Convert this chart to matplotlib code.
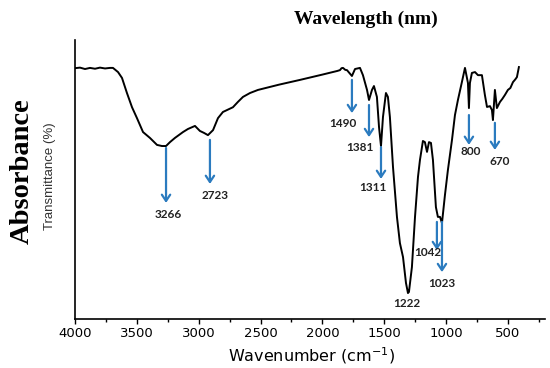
import matplotlib
matplotlib.use('Agg')
import matplotlib.pyplot as plt
from matplotlib.ticker import MultipleLocator

# FTIR spectrum (wavenumber in cm-1, transmittance in arbitrary %)
wavenumber = [4000, 3960, 3919, 3879, 3838, 3798, 3757, 3717, 3693, 3652, 3620, 3580,
              3539, 3499, 3450, 3394, 3337, 3297, 3264, 3232, 3192, 3127, 3087, 3030,
              2990, 2957, 2925, 2884, 2844, 2804, 2723, 2683, 2642, 2585, 2521, 2350,
              2181, 2000, 1880, 1858, 1845, 1833, 1815, 1801, 1761, 1736, 1696, 1672,
              1639, 1623, 1599, 1583, 1559, 1542, 1526, 1510, 1486, 1470, 1454, 1429,
              1397, 1373, 1348, 1324, 1308, 1300, 1276, 1251, 1227, 1211, 1187, 1171,
              1154, 1138, 1122, 1106, 1082, 1066, 1049, 1033, 1009, 985, 952, 928,
              904, 872, 847, 823, 815, 807, 791, 766, 742, 710, 686, 669, 645, 629,
              621, 605, 589, 564, 545, 524, 500, 480, 459, 440, 427, 411]
transmittance = [89.9, 90.1, 89.6, 90.0, 89.7, 90.1, 89.8, 90.0, 90.0, 88.5, 86.4, 81.0,
                 75.9, 72.0, 67.0, 64.9, 62.4, 62.0, 62.0, 63.4, 64.9, 67.0, 68.1, 69.2,
                 67.4, 66.7, 65.9, 67.7, 72.0, 74.2, 75.9, 77.8, 79.6, 81.0, 82.1, 84.0,
                 85.7, 87.6, 88.9, 89.2, 89.9, 90.0, 89.3, 89.2, 87.1, 89.6, 90.0, 87.4,
                 82.1, 78.5, 82.1, 83.5, 79.6, 68.8, 62.0, 72.4, 81.0, 79.6, 72.4, 54.5,
                 36.6, 27.2, 22.2, 12.9, 9.3, 9.7, 18.6, 36.6, 50.9, 57.0, 63.8, 63.4,
                 59.9, 63.4, 63.1, 57.0, 40.1, 36.6, 36.6, 34.4, 44.4, 53.4, 64.2, 73.1,
                 78.5, 84.9, 90.0, 84.6, 75.6, 84.6, 88.2, 88.5, 87.4, 87.4, 80.3, 76.0,
                 76.3, 74.9, 71.3, 82.1, 75.6, 77.8, 78.9, 80.3, 82.1, 82.8, 84.9, 85.9,
                 86.7, 90.3]

# Peak markers: label, arrow x, arrow start y, arrow tip y, label x, label y
peak_labels = ['3266', '2723', '1490', '1381', '1311', '1042', '1023', '800', '670']
peak_x = [3264, 2909, 1761, 1623, 1526, 1074, 1033, 815, 605]
arrow_top = [61.3, 64.2, 85.7, 76.7, 61.6, 34.8, 34.8, 73.1, 70.3]
arrow_tip = [41.6, 48.4, 73.8, 65.2, 50.2, 24.7, 16.8, 62.4, 60.6]
label_x = [3248, 2868, 1834, 1696, 1591, 1146, 1033, 799, 564]
label_y = [37.3, 44.3, 69.9, 61.3, 47.0, 23.7, 12.9, 59.9, 56.3]

fig = plt.figure(figsize=(5.5, 3.68), dpi=100)
ax = fig.add_axes([75 / 550, 1 - 319 / 368, 470 / 550, 279 / 368])

ax.plot(wavenumber, transmittance, color='black', lw=1.4)

arrow_color = '#2b7bbf'
for lab, x, y0, y1, lx, ly in zip(peak_labels, peak_x, arrow_top, arrow_tip, label_x, label_y):
    ax.annotate('', xy=(x, y1), xytext=(x, y0),
                arrowprops=dict(arrowstyle='->, head_length=0.45, head_width=0.3',
                                color=arrow_color, lw=1.6, shrinkA=0, shrinkB=0))
    ax.text(lx, ly, lab, ha='center', va='center', fontsize=8.5,
            fontweight='bold', family='Lato', color='#222222')
ax.text(1316, 5.4, '1222', ha='center', va='center', fontsize=8.5,
        fontweight='bold', family='Lato', color='#222222')

ax.set_xlim(4000, 200)
ax.set_ylim(0, 100)
ax.xaxis.set_major_locator(MultipleLocator(500))
ax.xaxis.set_minor_locator(MultipleLocator(250))
ax.set_yticks([])
for side in ['top', 'right']:
    ax.spines[side].set_visible(False)
for side in ['left', 'bottom']:
    ax.spines[side].set_linewidth(1.2)
ax.tick_params(axis='x', which='both', direction='out', width=1.0, pad=2,
               labelsize=9.5, colors='black')
ax.tick_params(axis='x', which='major', length=3.5)
ax.tick_params(axis='x', which='minor', length=2.5)

fig.text(312 / 550, 1 - 362 / 368, 'Wavenumber (cm$^{-1}$)', ha='center',
         va='baseline', fontsize=11.5)
fig.text(50 / 550, 1 - 176 / 368, 'Transmittance (%)', rotation=90, ha='center',
         va='center', fontsize=9.5, family='Liberation Sans', color='#333333')
fig.text(22 / 550, 1 - 171 / 368, 'Absorbance', rotation=90, ha='center',
         va='center', fontsize=20.5, fontweight='bold', family='Liberation Serif')
fig.text(366 / 550, 1 - 19.5 / 368, 'Wavelength (nm)', ha='center', va='center',
         fontsize=14, fontweight='bold', family='Liberation Serif')

fig.savefig('out.png', dpi=100)
